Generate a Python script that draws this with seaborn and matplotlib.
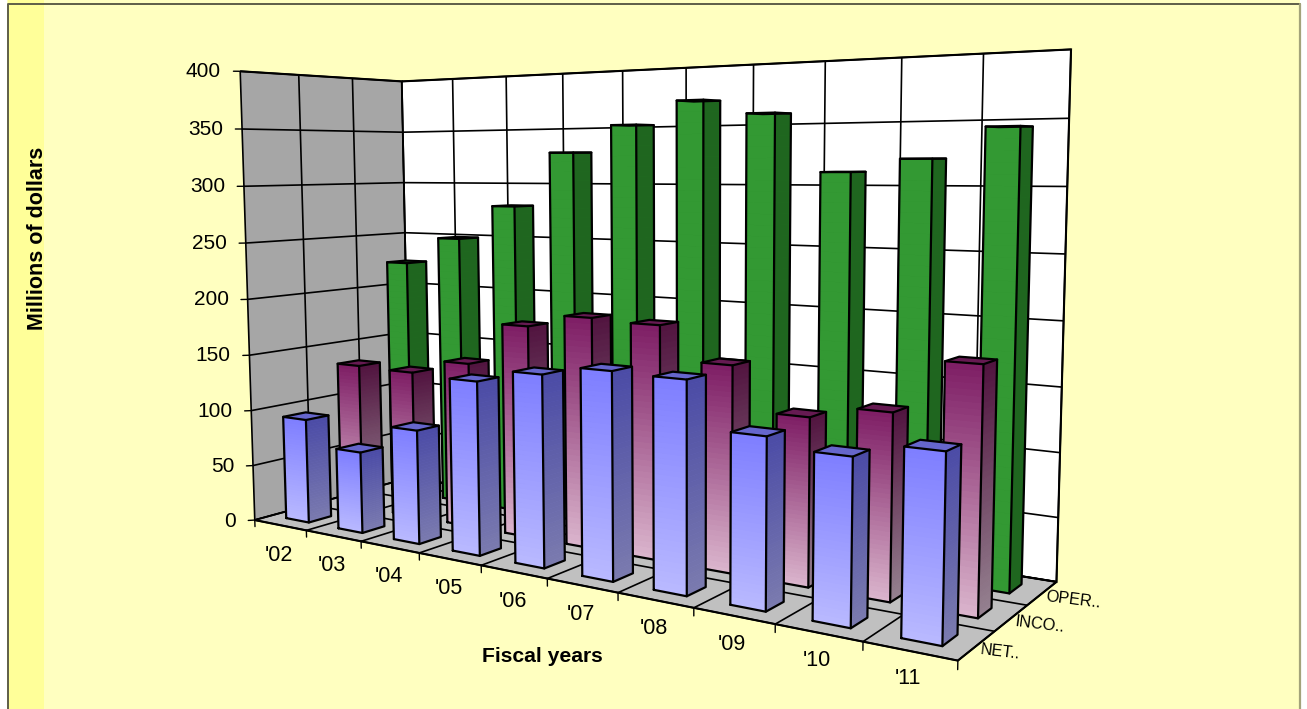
import numpy as np
import matplotlib
matplotlib.use("Agg")
import matplotlib.pyplot as plt
from matplotlib.colors import to_rgba
from mpl_toolkits.mplot3d import proj3d
import seaborn as sns

# Annual results in millions of dollars, fiscal 2002 to 2011
years = ["'02", "'03", "'04", "'05", "'06", "'07", "'08", "'09", "'10", "'11"]
net_income = [93, 71, 97, 144, 155, 163, 162, 127, 120, 131]
income = [133, 132, 145, 182, 193, 191, 164, 130, 140, 180]
operating = [224, 249, 280, 328, 351, 370, 358, 311, 321, 344]
series_names = ["NET..", "INCO..", "OPER.."]
value_ticks = [0, 50, 100, 150, 200, 250, 300, 350, 400]

W, H = 1307, 709
SIDE = 1400

sns.set_theme(style="white")
plt.rcParams.update({
    "font.family": ["Liberation Sans", "DejaVu Sans"],
    "grid.color": "black",
    "grid.linewidth": 1.2,
    "axes.linewidth": 1.6,
    "axes.edgecolor": "black",
})

PANEL = "#FFFFC0"
STRIP = "#FFFF99"

fig = plt.figure(figsize=(W / 100, H / 100), dpi=100, facecolor="white")

# Yellow slide background behind the chart
bg = fig.add_axes([0, 0, 1, 1], zorder=0)
bg.set_xlim(0, W)
bg.set_ylim(H, 0)
bg.axis("off")
bg.axvspan(7, 1300, color=PANEL, lw=0)
bg.axvspan(8, 44, color=STRIP, lw=0)
bg.plot([7.5, 7.5, 1300], [H, 3.5, 3.5], color="#5E5E48", lw=1.4)
bg.plot([1299.5, 1299.5], [3.5, H], color="#A3A37A", lw=1.6)

ax = fig.add_axes([-98.4 / W, ((H - SIDE) / 2 + 26.4) / H, SIDE / W, SIDE / H],
                  projection="3d", computed_zorder=False, zorder=1)
ax.patch.set_visible(False)
ax.view_init(5.955, -55.841, 0.297)
ax.set_proj_type("persp", focal_length=0.188)
ax.set_box_aspect((1.651, 0.513, 1.0), zoom=0.678)

ax.xaxis.set_pane_color(to_rgba("#A6A6A6"))
ax.yaxis.set_pane_color(to_rgba("#FFFFFF"))
ax.zaxis.set_pane_color(to_rgba("#C0C0C0"))
for axis in (ax.xaxis, ax.yaxis, ax.zaxis):
    axis.pane.set_edgecolor("black")
    axis.pane.set_linewidth(1.5)
    axis.set_ticks_position("none")

ax.set_xticks(np.arange(len(years) + 1))
ax.set_yticks(np.arange(len(series_names) + 1))
ax.set_zticks(value_ticks)
ax.set_xticklabels([])
ax.set_yticklabels([])
ax.set_zticklabels([])
ax.grid(True)

DEPTH = 0.40
N_STEPS = 40

STYLES = [
    dict(width=0.44, front=("#B9B9FF", "#7F7FFF"), side=("#7A7AAE", "#4C4CA6"), top="#6666CC"),
    dict(width=0.42, front=("#DAB4CC", "#7F1F66"), side=("#94808F", "#521540"), top="#661A52"),
    dict(width=0.39, front=("#339933", "#339933"), side=("#1F661F", "#1F661F"), top="#246B24"),
]


def draw_bar(i, s, value, style, order):
    width = style["width"]
    x0 = i + 0.5 - width / 2
    y0 = s + 0.5 - DEPTH / 2
    x1, y1 = x0 + width, y0 + DEPTH
    fronts = sns.blend_palette(style["front"], N_STEPS)
    sides = sns.blend_palette(style["side"], N_STEPS)
    dz = value / N_STEPS
    colors = []
    for k in range(N_STEPS):
        cap = style["top"] if k == N_STEPS - 1 else fronts[k]
        # face order: bottom, top, front, back, left, right
        colors += [fronts[k], cap, fronts[k], sides[k], sides[k], sides[k]]
    ax.bar3d(np.full(N_STEPS, x0), np.full(N_STEPS, y0), dz * np.arange(N_STEPS),
             width, DEPTH, dz, color=colors, edgecolor=colors, linewidth=0.4,
             shade=False, zorder=order)
    # Black outline of the three visible faces
    edges = [
        ([x0, x1, x1, x0, x0], [y0, y0, y0, y0, y0], [0, 0, value, value, 0]),
        ([x1, x1, x1, x1], [y0, y1, y1, y0], [0, 0, value, value]),
        ([x0, x0, x1], [y0, y1, y1], [value, value, value]),
    ]
    for ex, ey, ez in edges:
        ax.plot(ex, ey, ez, color="black", lw=1.6, zorder=order + 0.5,
                solid_joinstyle="round")


# Painted from the back row to the front, left to right within a row
all_series = [net_income, income, operating]
for s in (2, 1, 0):
    for i, value in enumerate(all_series[s]):
        draw_bar(i, s, value, STYLES[s], (2 - s) * 100 + i * 2 + 2)

# Short outward tick marks on the value and year axes
for z in value_ticks:
    ax.plot([0, -0.06], [0, -0.06], [z, z], color="black", lw=1.0, zorder=1)
for i in range(len(years) + 1):
    ax.plot([i, i], [0, 0], [0, -6], color="black", lw=1.0, zorder=1)

ax.set_xlim(0, len(years))
ax.set_ylim(0, len(series_names))
ax.set_zlim(0, 400)


def label3d(x, y, z, text, **kwargs):
    """Write a label at a data position, keeping it as plain screen text."""
    xp, yp, _ = proj3d.proj_transform(x, y, z, ax.get_proj())
    ax.text2D(xp, yp, text, transform=ax.transData, color="black", zorder=900,
              clip_on=False, **kwargs)


for z in value_ticks:
    label3d(-0.17, -0.17, z, str(z), ha="right", va="center", fontsize=15)
for i, label in enumerate(years):
    label3d(i + 0.5, -0.03, -27 + i, label, ha="center", va="center", fontsize=15.5)
for s, name in enumerate(series_names):
    label3d(10.04, s + 0.5, -2, name, ha="left", va="center", fontsize=11.7,
            rotation=-7, rotation_mode="anchor")

bg.text(38, 238, "Millions of dollars", rotation=90, ha="center", va="center",
        fontsize=15.5, fontweight="bold", color="black")
bg.text(542, 656, "Fiscal years", ha="center", va="center", fontsize=15.2,
        fontweight="bold", color="black")

fig.savefig("out.png", dpi=100, facecolor="white")
